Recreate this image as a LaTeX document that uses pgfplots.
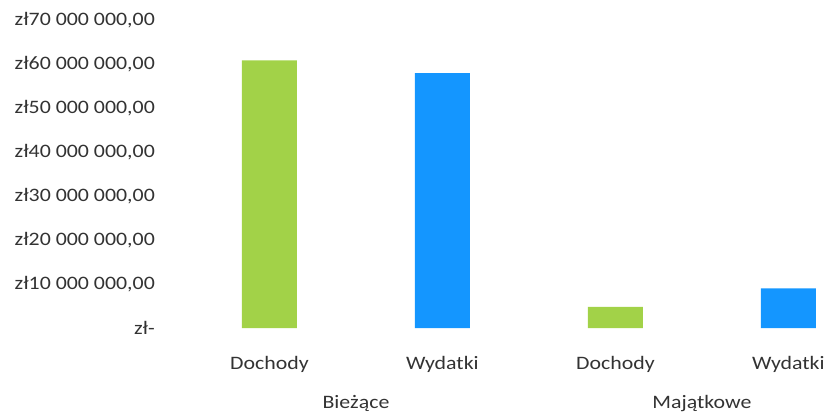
\documentclass[border=0pt]{standalone}
\usepackage{pgfplots}
\pgfplotsset{compat=1.18}
\usepackage{fontspec}
\setmainfont{Carlito}[FakeStretch=1.15]
\definecolor{bargreen}{RGB}{162,210,72}
\definecolor{barblue}{RGB}{20,150,255}
\begin{document}
\begin{tikzpicture}
\path[use as bounding box] (-183bp,-84bp) rectangle (644bp,328bp);
\begin{axis}[
  scale only axis,
  width=640bp, height=308bp,
  xmin=-0.5, xmax=3.2,
  ymin=0, ymax=70000000,
  scaled ticks=false,
  axis line style={draw=none},
  tick style={draw=none},
  xtick={0,1,2,3},
  xticklabels={Dochody,Wydatki,Dochody,Wydatki},
  ytick={0,10000000,20000000,30000000,40000000,50000000,60000000,70000000},
  yticklabels={{zł-\hspace{8bp}},{zł10 000 000,00},{zł20 000 000,00},{zł30 000 000,00},{zł40 000 000,00},{zł50 000 000,00},{zł60 000 000,00},{zł70 000 000,00}},
  ticklabel style={font=\fontsize{19bp}{22bp}\selectfont, text=black!80},
  yticklabel style={anchor=east, inner sep=0pt, xshift=-28bp},
  xticklabel style={anchor=base, inner sep=0pt, yshift=-37bp},
  ybar, bar width=55bp,
  clip=false,
]
\addplot[draw=none, fill=bargreen, bar shift=0pt] coordinates {(0,60800000) (2,4800000)};
\addplot[draw=none, fill=barblue, bar shift=0pt] coordinates {(1,57900000) (3,9000000)};
\node[anchor=base, inner sep=0pt, font=\fontsize{19bp}{22bp}\selectfont, text=black!80, yshift=-80bp] at (axis cs:0.5,0) {Bieżące};
\node[anchor=base, inner sep=0pt, font=\fontsize{19bp}{22bp}\selectfont, text=black!80, yshift=-80bp] at (axis cs:2.5,0) {Majątkowe};
\end{axis}
\end{tikzpicture}
\end{document}
